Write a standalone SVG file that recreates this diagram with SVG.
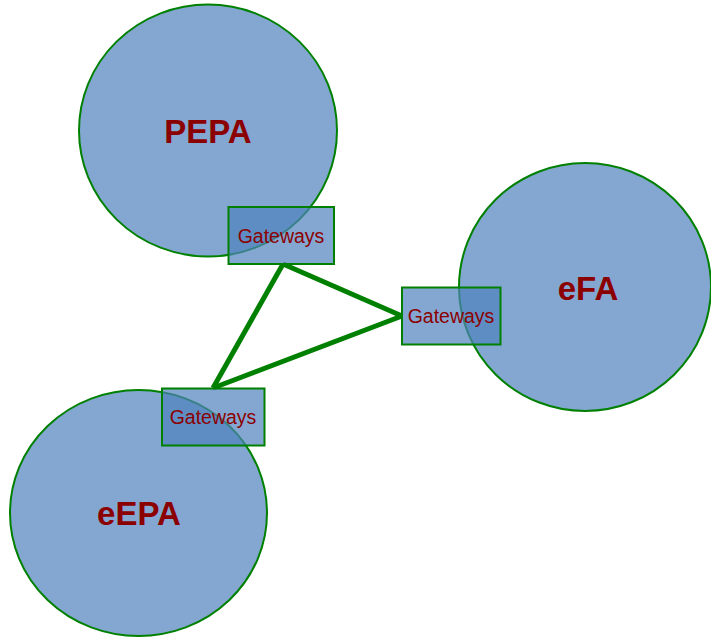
<svg xmlns="http://www.w3.org/2000/svg" width="711" height="637" viewBox="0 0 711 637">
<style>
.area{fill:#4f81bd;fill-opacity:0.7;stroke:#008000;stroke-width:2}
.gw{fill:#4f81bd;fill-opacity:0.7;stroke:#008000;stroke-width:2}
.big{font-family:"Liberation Sans",Arial,sans-serif;font-size:33px;font-weight:bold;fill:#8b0000;text-anchor:middle;dominant-baseline:central}
.small{font-family:"Liberation Sans",Arial,sans-serif;font-size:19.5px;fill:#8b0000;text-anchor:middle;dominant-baseline:central}
.link{stroke:#008000;stroke-width:5;fill:none;stroke-linejoin:miter}
</style>
<rect width="711" height="637" fill="#ffffff"/>
<g id="PEPA"><ellipse class="area" cx="208" cy="130.5" rx="129" ry="126"/><text class="big" x="208" y="131">PEPA</text></g>
<g id="eFA"><ellipse class="area" cx="585" cy="287" rx="126" ry="124"/><text class="big" x="588" y="288">eFA</text></g>
<g id="eEPA"><ellipse class="area" cx="138.5" cy="513" rx="128.5" ry="123"/><text class="big" x="139" y="513">eEPA</text></g>
<g id="connectors">
<line class="link" x1="283" y1="264" x2="402" y2="316"/>
<line class="link" x1="402" y1="316" x2="213" y2="388"/>
<line class="link" x1="213" y1="388" x2="283" y2="264"/>
</g>
<g id="gw-PEPA"><rect class="gw" x="228.5" y="207" width="105.5" height="57"/><text class="small" x="281" y="236">Gateways</text></g>
<g id="gw-eFA"><rect class="gw" x="402" y="287.5" width="98.5" height="57"/><text class="small" x="451" y="316">Gateways</text></g>
<g id="gw-eEPA"><rect class="gw" x="162" y="388.5" width="102.5" height="57"/><text class="small" x="213" y="417">Gateways</text></g>
</svg>
